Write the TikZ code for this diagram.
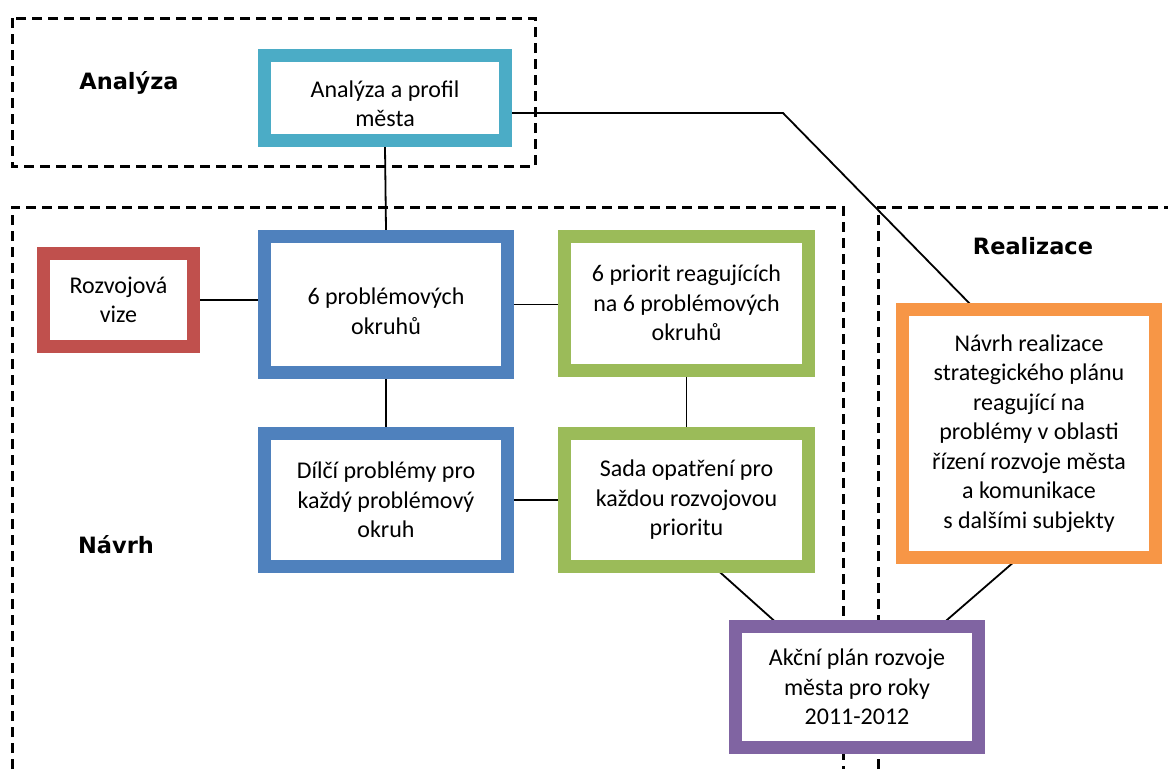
\documentclass[tikz,border=0pt]{standalone}
\usepackage{fontspec}
\setmainfont{Carlito}
\newfontfamily\headfont{DejaVu Sans}
\usetikzlibrary{calc}
\pgfdeclarelayer{background}
\pgfsetlayers{background,main}
\definecolor{cCyan}{HTML}{4BACC6}
\definecolor{cBlue}{HTML}{4F81BD}
\definecolor{cGreen}{HTML}{9BBB59}
\definecolor{cRed}{HTML}{C0504D}
\definecolor{cOrange}{HTML}{F79646}
\definecolor{cPurple}{HTML}{8064A2}
\newcommand{\pushdown}[1]{\rule{0pt}{#1}}
\tikzset{
  box/.style={draw, line width=13pt, fill=white, align=center, inner sep=0pt,
    font=\fontsize{24}{29.5}\selectfont},
  region/.style={draw=black, line width=3pt, dash pattern=on 10pt off 6pt},
  heading/.style={font=\headfont\bfseries\fontsize{22.5}{27}\selectfont, inner sep=0pt},
  conn/.style={draw=black, line width=1.8pt},
}
\begin{document}
\begin{tikzpicture}[x=1pt,y=-1pt]
\useasboundingbox (0,0) rectangle (1168,769);
% dashed regions
\draw[region] (12,18) rectangle (535,166);
\draw[region] (12,769) -- (12,207) -- (843,207) -- (843,769);
\draw[region] (878,769) -- (878,207) -- (1168,207);
% headings
\node[heading] (hA) at (129,83) {Analýza};
\node[heading] (hN) at (116,545) {Návrh};
\node[heading] (hR) at (1033,246) {Realizace};
% boxes
\node[box, draw=cCyan, minimum width=241pt, minimum height=85pt] (anal) at (385,98) {\pushdown{28pt}Analýza a profil\\města};
\node[box, draw=cRed, minimum width=150pt, minimum height=93pt] (vize) at (118.5,300) {Rozvojová\\vize};
\node[box, draw=cBlue, minimum width=243pt, minimum height=136pt] (okr) at (386,304.5) {\pushdown{30pt}6 problémových\\okruhů};
\node[box, draw=cGreen, minimum width=244pt, minimum height=134pt] (prio) at (686.5,303) {6 priorit reagujících\\na 6 problémových\\okruhů};
\node[box, draw=cBlue, minimum width=243pt, minimum height=133pt] (dilci) at (386,500) {Dílčí problémy pro\\každý problémový\\okruh};
\node[box, draw=cGreen, minimum width=244pt, minimum height=133pt] (sada) at (686.5,500) {Sada opatření pro\\každou rozvojovou\\prioritu};
\node[box, draw=cOrange, minimum width=253pt, minimum height=248pt] (real) at (1029,433.5) {Návrh realizace\\strategického plánu\\reagující na\\problémy v oblasti\\řízení rozvoje města\\a komunikace\\s dalšími subjekty};
\node[box, draw=cPurple, minimum width=243pt, minimum height=121pt] (akce) at (857,687) {Akční plán rozvoje\\města pro roky\\2011-2012};
% connectors
\coordinate (bend) at (783,113);
\coordinate (aOut) at ($(anal.east)+(0,15)$);
\coordinate (rIn) at (975,309);
\coordinate (sOut) at (713,566);
\coordinate (aIn1) at (780,626);
\coordinate (rOut) at (1015,561);
\coordinate (aIn2) at (940,626);
\begin{pgfonlayer}{background}
\draw[conn] (anal.south) -- (okr.north);
\draw[conn] (aOut) -- (bend) -- (rIn);
\draw[conn] (vize.east) -- (vize.east -| okr.west);
\draw[conn] (okr.east) -- (okr.east -| prio.west);
\draw[conn] (okr.south) -- (dilci.north);
\draw[conn] (prio.south) -- (prio.south |- sada.north);
\draw[conn] (dilci.east) -- (dilci.east -| sada.west);
\draw[conn] (sOut) -- (aIn1);
\draw[conn] (rOut) -- (aIn2);
\end{pgfonlayer}
\end{tikzpicture}
\end{document}
